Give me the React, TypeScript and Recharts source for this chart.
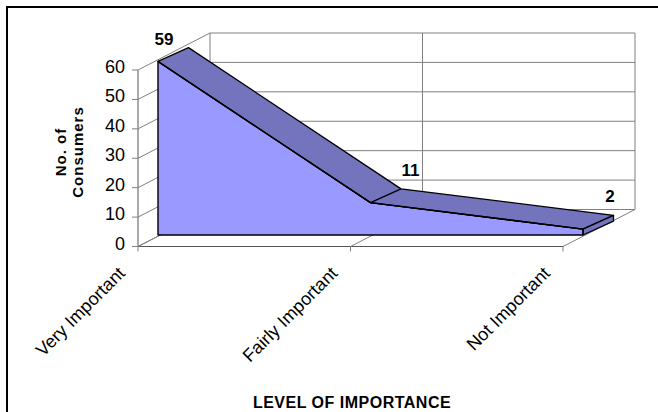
import React from 'react';
import { AreaChart, Area, XAxis, YAxis, ReferenceLine, LabelList } from 'recharts';

// Survey result: how important consumers rate the product
const categories = ['Very Important', 'Fairly Important', 'Not Important'];
const consumers = [59, 11, 2];
const yTicks = [0, 10, 20, 30, 40, 50, 60];

const data = categories.map((level, i) => ({ level, consumers: consumers[i] }));

const W = 658;
const H = 412;
const FONT = '"Liberation Sans", Arial, Helvetica, sans-serif';
const FACE_FILL = '#9999ff';
const TOP_FILL = '#7474be';
const GRID = '#808080';
const EDGE = '#000';

// pseudo 3-D box: full depth in px, and where the front face / top band sit in it
const DEPTH = { dx: 72, dy: 37 };
const FACE = { dx: 20, dy: 11.5 };
const TOP = { dx: 50.5, dy: 25.3 };
const TOP_SHIFT = { dx: TOP.dx - FACE.dx, dy: TOP.dy - FACE.dy };

// plot rectangle (front axis plane + depth), shared by both layers
const PLOT = { top: 33, right: 23, left: 138, bottom: 165.5 };
const Y_AXIS_W = 60;
const X_AXIS_H = 120;
const Y_TICK = { size: 6, margin: 7 };
const X_TICK = { size: 5, margin: 0 };
const FACE_BASE = H - PLOT.bottom - FACE.dy;

// data labels sit a little above/behind the top band
const labelNudge = [
  { dx: 6, dy: -23 },
  { dx: 40, dy: -33 },
  { dx: 27, dy: -33 },
];

const facePts: { x: number; y: number }[] = [];

// the top band and right end cap of the solid, drawn once all face points are known
const renderSolid = (props: any) => {
  const { index, cx, cy } = props;
  const key = `solid-${index}`;
  if (index === 0) facePts.length = 0;
  facePts[index] = { x: cx, y: cy };
  if (index !== consumers.length - 1) return <g key={key} />;

  const pts: { x: number; y: number }[] =
    Array.isArray(props.points) && props.points.length
      ? props.points.map((p: any) => ({ x: p.x, y: p.y }))
      : facePts.slice();
  const back = pts.map((p) => ({ x: p.x + TOP_SHIFT.dx, y: p.y - TOP_SHIFT.dy }));
  const first = pts[0];
  const last = pts[pts.length - 1];
  const lastBack = back[back.length - 1];
  const path = (list: { x: number; y: number }[]) => list.map((p) => `${p.x},${p.y}`).join(' ');

  const band = [...pts, ...back.slice().reverse()];
  const cap = [last, lastBack, { x: lastBack.x, y: FACE_BASE - TOP_SHIFT.dy }, { x: last.x, y: FACE_BASE }];
  const outline = [...pts, { x: last.x, y: FACE_BASE }, { x: first.x, y: FACE_BASE }];

  return (
    <g key={key}>
      <polygon points={path(band)} fill={TOP_FILL} stroke={EDGE} strokeWidth={1.3} strokeLinejoin="round" />
      <polygon points={path(cap)} fill={TOP_FILL} stroke={EDGE} strokeWidth={1.3} strokeLinejoin="round" />
      <polygon points={path(outline)} fill="none" stroke={EDGE} strokeWidth={1.4} strokeLinejoin="round" />
      {pts.slice(1, -1).map((p, i) => (
        <line key={`crease-${i}`} x1={p.x} y1={p.y} x2={back[i + 1].x} y2={back[i + 1].y} stroke={EDGE} strokeWidth={1.3} />
      ))}
    </g>
  );
};

const renderValueLabel = (p: any) => {
  const n = labelNudge[p.index] ?? { dx: 0, dy: -20 };
  return (
    <text
      key={`label-${p.index}`}
      x={p.x + n.dx}
      y={p.y + n.dy}
      dy="0.36em"
      textAnchor="middle"
      fontFamily={FONT}
      fontSize={17}
      fontWeight="bold"
      fill="#000"
    >
      {p.value}
    </text>
  );
};

// value tick + the line running back along the left wall
const renderValueTick = (p: any) => {
  const ax = p.x + Y_TICK.size + Y_TICK.margin;
  return (
    <g>
      <line x1={ax} y1={p.y} x2={ax + DEPTH.dx} y2={p.y - DEPTH.dy} stroke={GRID} />
      <text x={p.x} y={p.y} dy={3} textAnchor="end" fontFamily={FONT} fontSize={18} fill="#000">
        {p.payload.value}
      </text>
    </g>
  );
};

// category tick + the line running back along the floor
const renderCategoryTick = (p: any) => {
  const ay = p.y - X_TICK.size - X_TICK.margin;
  const tx = p.x - 12;
  const ty = ay + 28;
  return (
    <g>
      <line x1={p.x} y1={ay} x2={p.x + DEPTH.dx} y2={ay - DEPTH.dy} stroke={GRID} />
      <text
        x={tx}
        y={ty}
        transform={`rotate(-45 ${tx} ${ty})`}
        textAnchor="end"
        fontFamily={FONT}
        fontSize={18}
        fill="#000"
      >
        {p.payload.value}
      </text>
    </g>
  );
};

const layer: React.CSSProperties = { position: 'absolute', left: 0, top: 0 };

export default function App() {
  const first = categories[0];
  const last = categories[categories.length - 1];
  return (
    <div style={{ position: 'fixed', left: 0, top: 0, width: W, height: H, overflow: 'hidden', background: '#fff' }}>
      <div
        style={{
          position: 'absolute',
          left: 6,
          top: 6,
          width: W + 40,
          height: H + 40,
          borderLeft: '2px solid #000',
          borderTop: '2px solid #000',
        }}
      />

      {/* box: axes, walls and floor */}
      <div style={layer}>
        <AreaChart
          width={W}
          height={H}
          data={data}
          margin={{ top: PLOT.top, right: PLOT.right, left: PLOT.left - Y_AXIS_W, bottom: PLOT.bottom - X_AXIS_H }}
        >
          <XAxis
            xAxisId="front"
            dataKey="level"
            type="category"
            scale="point"
            padding={{ left: 0, right: DEPTH.dx }}
            height={X_AXIS_H}
            interval={0}
            axisLine={false}
            tickLine={{ stroke: GRID }}
            tickSize={X_TICK.size}
            tickMargin={X_TICK.margin}
            tick={renderCategoryTick}
          />
          <YAxis
            yAxisId="front"
            type="number"
            domain={[0, 60]}
            allowDataOverflow
            ticks={yTicks}
            interval={0}
            padding={{ top: DEPTH.dy, bottom: 0 }}
            width={Y_AXIS_W}
            axisLine={false}
            tickLine={{ stroke: GRID }}
            tickSize={Y_TICK.size}
            tickMargin={Y_TICK.margin}
            tick={renderValueTick}
          />
          <XAxis
            xAxisId="wall"
            orientation="top"
            dataKey="level"
            type="category"
            scale="point"
            padding={{ left: DEPTH.dx, right: 0 }}
            hide
          />
          <YAxis
            yAxisId="wall"
            orientation="right"
            type="number"
            domain={[0, 60]}
            allowDataOverflow
            padding={{ top: 0, bottom: DEPTH.dy }}
            hide
          />
          {yTicks.map((v) => (
            <ReferenceLine
              key={`wall-row-${v}`}
              xAxisId="wall"
              yAxisId="wall"
              segment={[
                { x: first, y: v },
                { x: last, y: v },
              ]}
              stroke={GRID}
            />
          ))}
          {categories.map((c) => (
            <ReferenceLine
              key={`wall-col-${c}`}
              xAxisId="wall"
              yAxisId="wall"
              segment={[
                { x: c, y: 0 },
                { x: c, y: 60 },
              ]}
              stroke={GRID}
            />
          ))}
          <ReferenceLine
            xAxisId="front"
            yAxisId="front"
            segment={[
              { x: first, y: 0 },
              { x: first, y: 60 },
            ]}
            stroke="#555"
          />
          <ReferenceLine
            xAxisId="front"
            yAxisId="front"
            segment={[
              { x: first, y: 0 },
              { x: last, y: 0 },
            ]}
            stroke="#555"
          />
        </AreaChart>
      </div>

      {/* the solid itself */}
      <div style={layer}>
        <AreaChart width={W} height={H} data={data} margin={PLOT}>
          <XAxis
            xAxisId="face"
            dataKey="level"
            type="category"
            scale="point"
            padding={{ left: FACE.dx, right: DEPTH.dx - FACE.dx }}
            hide
          />
          <YAxis
            yAxisId="face"
            type="number"
            domain={[0, 60]}
            padding={{ top: DEPTH.dy - FACE.dy, bottom: FACE.dy }}
            hide
          />
          <Area
            xAxisId="face"
            yAxisId="face"
            type="linear"
            dataKey="consumers"
            fill={FACE_FILL}
            fillOpacity={1}
            stroke={EDGE}
            strokeWidth={1.4}
            dot={renderSolid}
            activeDot={false}
            isAnimationActive={false}
          >
            <LabelList dataKey="consumers" content={renderValueLabel} />
          </Area>
        </AreaChart>
      </div>

      <svg width={W} height={H} style={{ ...layer, pointerEvents: 'none' }}>
        <g fontFamily={FONT} fontWeight="bold" fill="#000">
          <text x={66} y={152} transform="rotate(-90 66 152)" textAnchor="middle" fontSize={15} letterSpacing={1}>
            No. of
          </text>
          <text x={83} y={152} transform="rotate(-90 83 152)" textAnchor="middle" fontSize={15} letterSpacing={1}>
            Consumers
          </text>
          <text x={352} y={408} textAnchor="middle" fontSize={16} letterSpacing={0.5}>
            LEVEL OF IMPORTANCE
          </text>
        </g>
      </svg>
    </div>
  );
}
